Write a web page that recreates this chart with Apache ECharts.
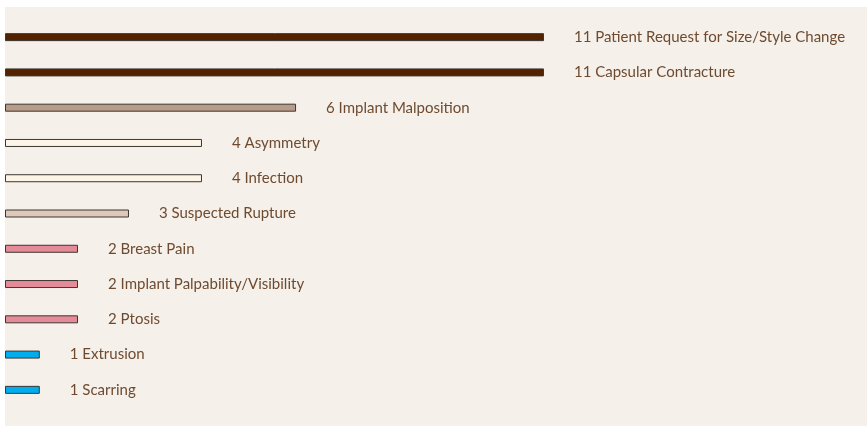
<!DOCTYPE html>
<html>
<head>
<meta charset="utf-8">
<script src="https://cdn.jsdelivr.net/npm/echarts@6/dist/echarts.min.js"></script>
<style>
  html, body { margin: 0; padding: 0; background: #ffffff; }
  #chart { width: 867px; height: 426px; }
</style>
</head>
<body>
<div id="chart"></div>
<script>
// categories, top to bottom
var categories = [
  "Patient Request for Size/Style Change",
  "Capsular Contracture",
  "Implant Malposition",
  "Asymmetry",
  "Infection",
  "Suspected Rupture",
  "Breast Pain",
  "Implant Palpability/Visibility",
  "Ptosis",
  "Extrusion",
  "Scarring"
];
// counts printed in the labels
var counts = [11, 11, 6, 4, 4, 3, 2, 2, 2, 1, 1];
// bar lengths as drawn in the picture (same units as the count 11)
var barLengths = [11, 11, 5.94, 4.02, 4.02, 2.53, 1.49, 1.49, 1.49, 0.71, 0.71];
var barColors = ["#552200", "#552200", "#b89c88", "#fcf4e6", "#fcf4e6", "#dec8b9",
  "#e58b97", "#e58b97", "#e58b97", "#00aeef", "#00aeef"];

var chart = echarts.init(document.getElementById("chart"));
chart.setOption({
  backgroundColor: "#ffffff",
  animation: false,
  graphic: [{
    type: "rect",
    z: -10,
    shape: { x: 5, y: 7, width: 862, height: 419 },
    style: { fill: "#f5f0ea" }
  }],
  grid: { left: 5, top: 19.5, width: 539, height: 388 },
  xAxis: { type: "value", min: 0, max: 11, show: false },
  yAxis: {
    type: "category",
    data: categories,
    inverse: true,
    show: false
  },
  series: [{
    type: "bar",
    barWidth: 8,
    data: barLengths.map(function (v, i) {
      return { value: v, itemStyle: { color: barColors[i] } };
    }),
    itemStyle: { borderColor: "#3b3633", borderWidth: 1 },
    label: {
      show: true,
      position: "right",
      distance: 30,
      color: "#6e4b30",
      fontFamily: "Lato",
      fontSize: 15,
      formatter: function (p) {
        return counts[p.dataIndex] + " " + p.name;
      }
    }
  }]
});
</script>
</body>
</html>
